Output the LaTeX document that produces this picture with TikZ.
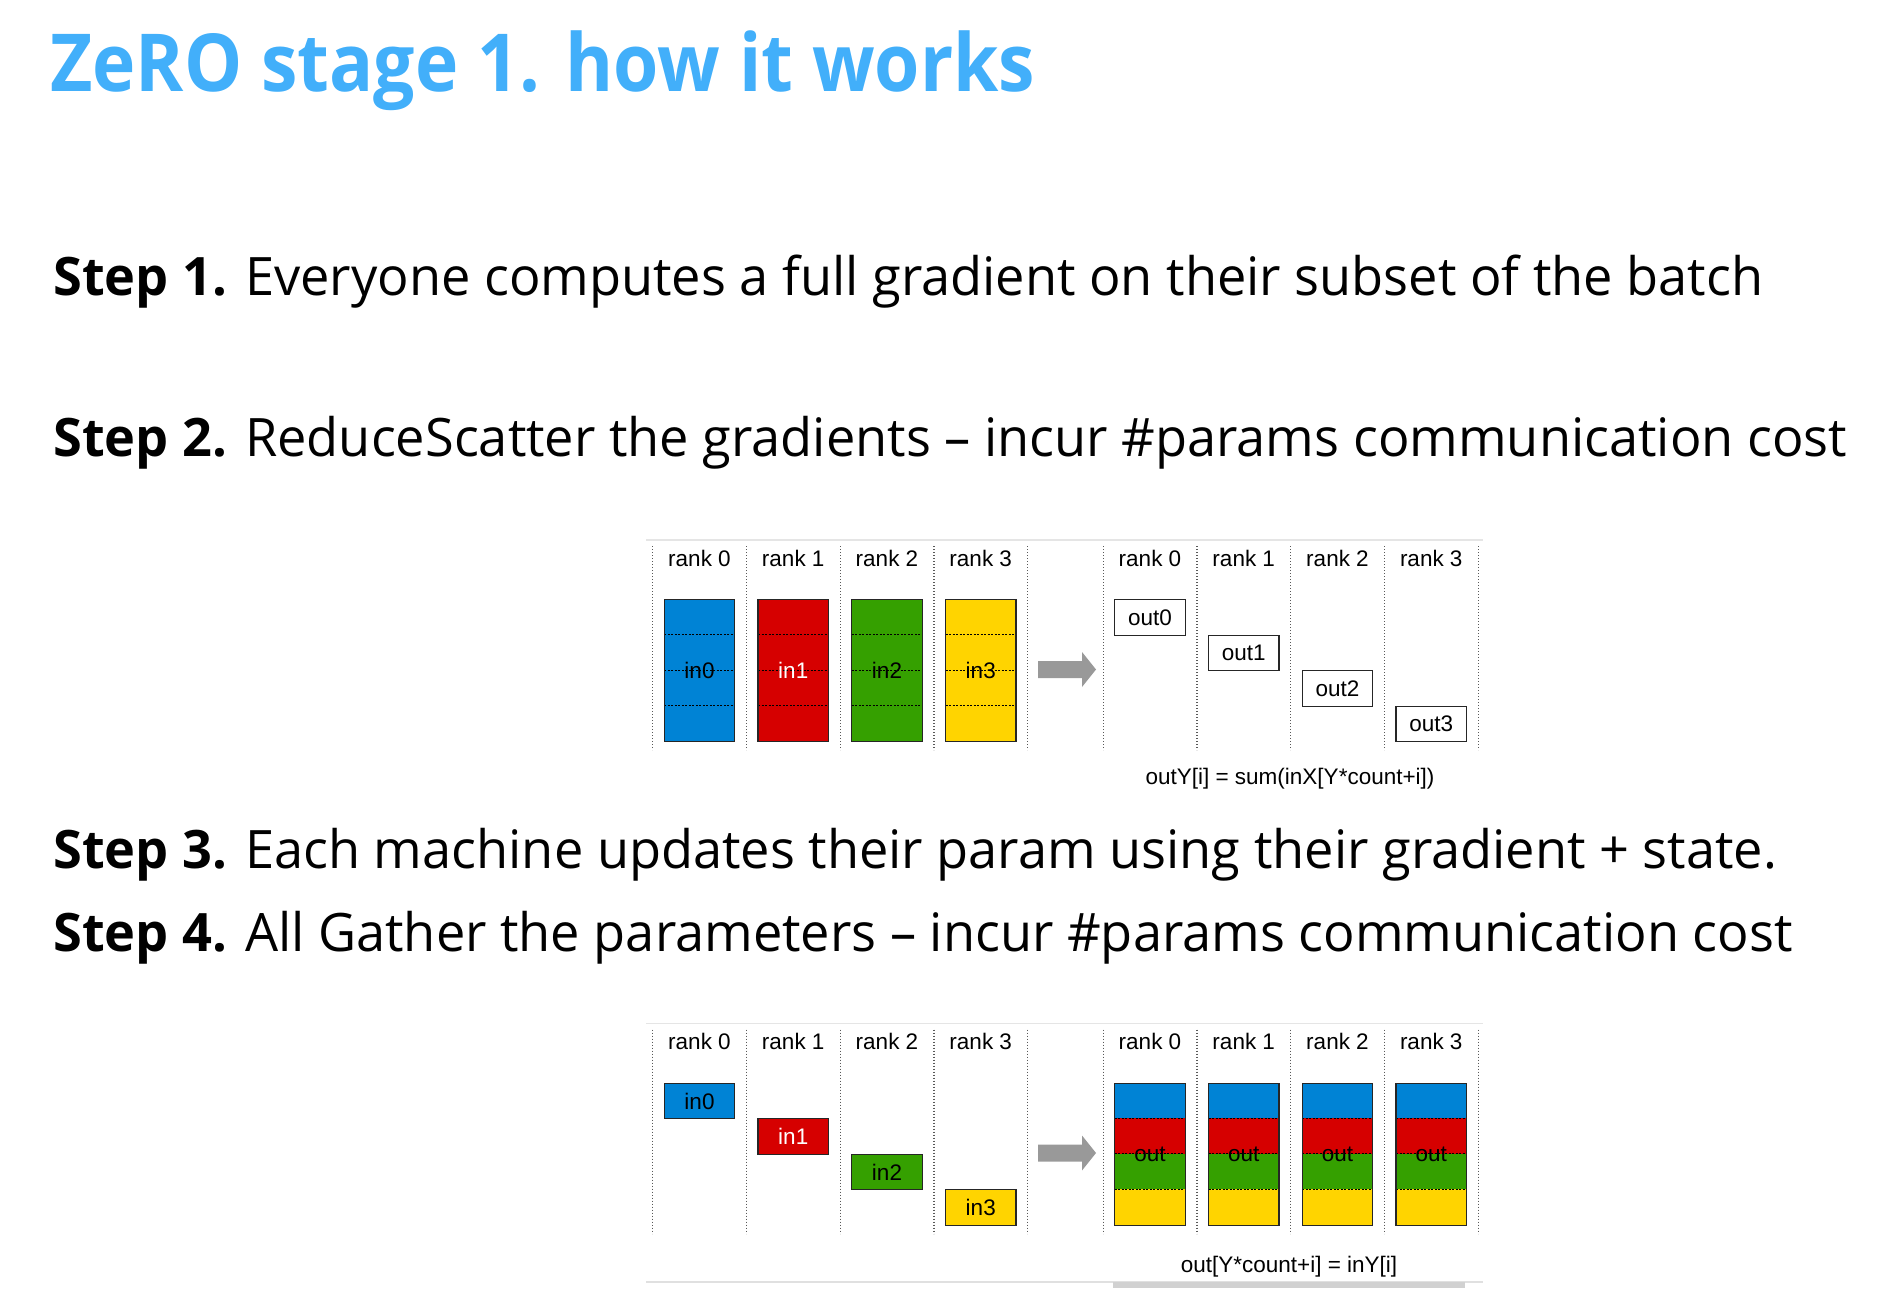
\documentclass[tikz,border=0pt]{standalone}
\usepackage{fontspec}
\setmainfont{Open Sans}
\newfontfamily\titlefont[FakeStretch=0.915]{Open Sans}
\newfontfamily\stepfont[FakeStretch=0.987]{Open Sans}
\newfontfamily\diagfont{Liberation Sans}
\definecolor{titleblue}{RGB}{66,175,250}
\definecolor{rblue}{RGB}{0,131,213}
\definecolor{rred}{RGB}{214,0,0}
\definecolor{rgreen}{RGB}{53,160,0}
\definecolor{ryellow}{RGB}{255,212,0}

\begin{document}
\begin{tikzpicture}[x=1pt,y=-1pt,
  steptext/.style={anchor=base west,inner sep=0pt,font=\stepfont\fontsize{53}{60}\selectfont},
  diag/.style={inner sep=0pt,font=\diagfont\fontsize{22.5}{26}\selectfont},
  guide/.style={black!65,line width=1.3pt,dash pattern=on 1.3pt off 1.7pt},
  cell/.style={diag,draw=black!85,line width=1.2pt,minimum width=70.5pt,minimum height=35.5pt,anchor=north},
  cellsep/.style={black,line width=0.9pt,dash pattern=on 2pt off 1.5pt}]
\useasboundingbox (0,0) rectangle (1898,1296);

\node[anchor=base west,inner sep=0pt,text=titleblue,font=\titlefont\bfseries\fontsize{80}{90}\selectfont] (title) at (50,91) {ZeRO stage 1. how it works};
\node[steptext] (step1) at (53,295) {\textbf{Step 1.} Everyone computes a full gradient on their subset of the batch};
\node[steptext] (step2) at (53,456) {\textbf{Step 2.} ReduceScatter the gradients – incur \#params communication cost};
\node[steptext] (step3) at (53,868) {\textbf{Step 3.} Each machine updates their param using their gradient + state.};
\node[steptext] (step4) at (53,951) {\textbf{Step 4.} All Gather the parameters – incur \#params communication cost};

\foreach \dy/\g in {0/rs,483.5/ag}{
  \draw[black!10,line width=1.5pt] (646,540+\dy) -- (1483,540+\dy);
  \foreach \i in {0,...,4}{
    \draw[guide] (652.7+93.75*\i,546+\dy) -- ++(0,204);
    \draw[guide] (1103.3+93.75*\i,546+\dy) -- ++(0,204);
  }
  \foreach \i in {0,...,3}{
    \node[diag,anchor=base] (\g-l\i) at (699.5+93.75*\i,566+\dy) {rank \i};
    \node[diag,anchor=base] (\g-r\i) at (1150+93.75*\i,566+\dy) {rank \i};
  }
  \fill[black!40] (1038,661+\dy) -- (1082,661+\dy) -- (1082,652+\dy) -- (1096,669.5+\dy)
    -- (1082,687+\dy) -- (1082,678+\dy) -- (1038,678+\dy) -- cycle;
}

\foreach \i/\c/\t in {0/rblue/black,1/rred/white,2/rgreen/black,3/ryellow/black}{
  \fill[\c] (664.25+93.75*\i,599) rectangle ++(70.5,142);
  \foreach \k in {1,2,3}
    \draw[cellsep] (664.25+93.75*\i,599+35.5*\k) -- ++(70.5,0);
  \node[cell,minimum height=142pt,text=\t] (rs-in\i) at (699.5+93.75*\i,599) {in\i};
  \node[cell,fill=white] (rs-out\i) at (1150+93.75*\i,599+35.5*\i) {out\i};
}
\node[diag,anchor=base] (rs-formula) at (1290,784) {outY[i] = sum(inX[Y*count+i])};

\foreach \i/\c/\t in {0/rblue/black,1/rred/white,2/rgreen/black,3/ryellow/black}{
  \node[cell,fill=\c,text=\t] (ag-in\i) at (699.5+93.75*\i,1082.7+35.5*\i) {in\i};
  \foreach \k/\cc in {0/rblue,1/rred,2/rgreen,3/ryellow}
    \fill[\cc] (1114.75+93.75*\i,1082.7+35.5*\k) rectangle ++(70.5,35.5);
  \foreach \k in {1,2,3}
    \draw[cellsep] (1114.75+93.75*\i,1082.7+35.5*\k) -- ++(70.5,0);
  \node[cell,minimum height=142pt] (ag-out\i) at (1150+93.75*\i,1082.7) {out};
}
\draw[black!12,line width=1.5pt] (646,1282) -- (1483,1282);
\fill[black!18] (1113,1282) rectangle (1465,1288);
\node[diag,anchor=base] (ag-formula) at (1289,1272.5) {out[Y*count+i] = inY[i]};
\end{tikzpicture}
\end{document}
